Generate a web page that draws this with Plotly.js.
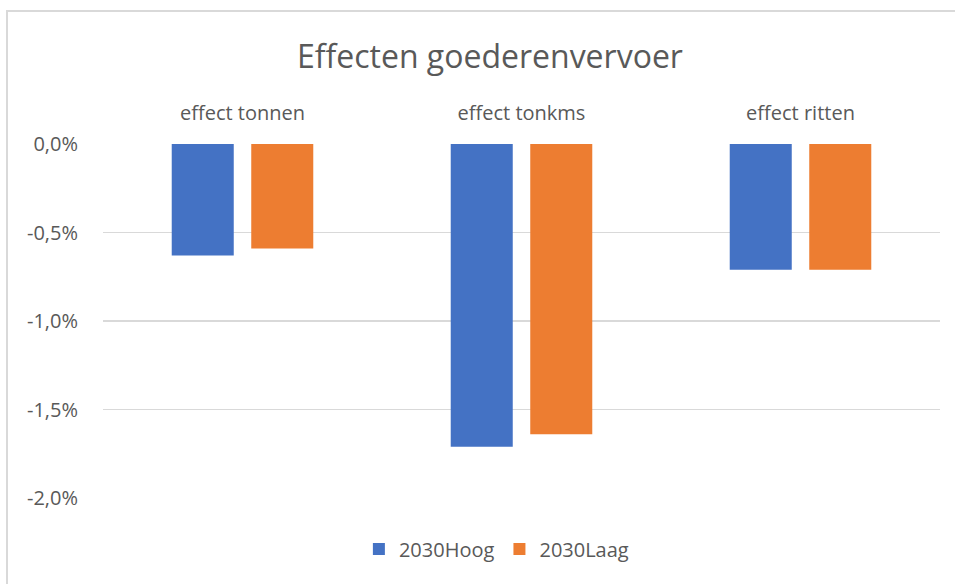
<!DOCTYPE html>
<html>
<head>
<meta charset="utf-8">
<script src="https://cdn.plot.ly/plotly-3.0.1.min.js"></script>
<style>
html,body{margin:0;padding:0;background:#fff;overflow:hidden;}
#frame{position:absolute;left:6px;top:10px;width:1000px;height:700px;border-left:2px solid #d9d9d9;border-top:2px solid #d9d9d9;}
#chart{position:absolute;left:0;top:0;width:955px;height:584px;}
</style>
</head>
<body>
<div id="frame"></div>
<div id="chart"></div>
<script>
const categories = ["effect tonnen", "effect tonkms", "effect ritten"];
const seriesNames = ["2030Hoog", "2030Laag"];
const hoog = [-0.63, -1.71, -0.71];
const laag = [-0.59, -1.64, -0.71];
const yTicks = [0, -0.5, -1.0, -1.5, -2.0];
const yTickLabels = ["0,0%", "-0,5%", "-1,0%", "-1,5%", "-2,0%"];

const font = "Open Sans, sans-serif";
const traces = [
  {type:'bar', name:seriesNames[0], x:categories, y:hoog, marker:{color:'#4472C4'}},
  {type:'bar', name:seriesNames[1], x:categories, y:laag, marker:{color:'#ED7D31'}}
];
const layout = {
  width:955, height:584,
  paper_bgcolor:'rgba(0,0,0,0)', plot_bgcolor:'rgba(0,0,0,0)',
  margin:{l:103, r:15, t:144, b:86},
  barmode:'group', bargap:0.43, bargroupgap:0.22,
  title:{text:'Effecten goederenvervoer', x:0.513, xanchor:'center', y:1-57/584, yanchor:'middle',
    font:{family:font, size:32, color:'#595959'}},
  xaxis:{side:'top', type:'category', showgrid:false, zeroline:false, showline:false,
    ticks:'outside', ticklen:15, tickcolor:'rgba(0,0,0,0)',
    tickfont:{family:font, size:20, color:'#595959'}},
  yaxis:{range:[-2.0, 0], tickmode:'array', tickvals:yTicks, ticktext:yTickLabels,
    showgrid:true, gridcolor:'#d9d9d9', gridwidth:1.5, zeroline:false, showline:false,
    ticks:'outside', ticklen:20, tickcolor:'rgba(0,0,0,0)',
    tickfont:{family:font, size:20, color:'#595959'}},
  legend:{orientation:'h', x:0.47, xanchor:'center', y:-51/354, yanchor:'middle',
    font:{family:font, size:20, color:'#595959'}, itemwidth:30},
  showlegend:true
};
Plotly.newPlot('chart', traces, layout, {displayModeBar:false, staticPlot:true});
</script>
</body>
</html>
